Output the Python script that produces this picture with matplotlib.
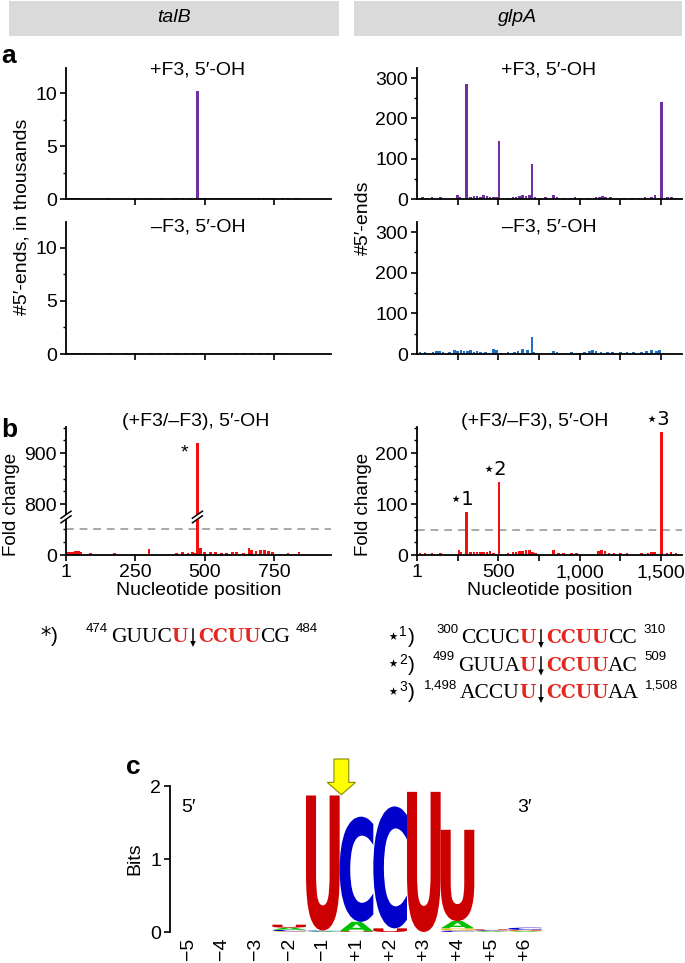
import matplotlib
matplotlib.use("Agg")
import matplotlib.pyplot as plt
from matplotlib.patches import Rectangle, PathPatch, Polygon
from matplotlib.textpath import TextPath
from matplotlib.font_manager import FontProperties
from matplotlib.lines import Line2D
import matplotlib.transforms as mtrans
from matplotlib.ticker import MultipleLocator

# ---------------- data ----------------
genes = ['talB', 'glpA']

# talB, +F3, 5'-OH (thousands of 5'-ends)
talb_plus_pos = [5, 15, 25, 35, 45, 80, 150, 200, 255, 300, 345, 395, 420, 450, 474, 486, 500, 515, 530,
                 545, 560, 575, 590, 605, 620, 635, 650, 665, 680, 695, 710, 725, 740, 760, 780, 800, 830, 860]
talb_plus_val = [0.10, 0.10, 0.09, 0.08, 0.06, 0.04, 0.05, 0.04, 0.04, 0.06, 0.05, 0.05, 0.06, 0.05, 10.2,
                 0.12, 0.10, 0.09, 0.10, 0.09, 0.10, 0.10, 0.09, 0.10, 0.10, 0.09, 0.10, 0.08, 0.09, 0.10,
                 0.09, 0.08, 0.07, 0.06, 0.06, 0.05, 0.05, 0.04]
# talB, -F3
talb_minus_pos = [5, 20, 35, 50, 70, 100, 130, 160, 190, 220, 250, 280, 310, 340, 370, 400, 430, 460, 490,
                  520, 550, 580, 610, 640, 670, 700, 730, 760, 790, 820]
talb_minus_val = [0.08, 0.08, 0.07, 0.06, 0.05, 0.06, 0.04, 0.05, 0.04, 0.06, 0.05, 0.04, 0.05, 0.06, 0.07,
                  0.06, 0.07, 0.06, 0.08, 0.07, 0.06, 0.05, 0.06, 0.05, 0.07, 0.06, 0.08, 0.06, 0.05, 0.04]
# glpA, +F3
glpa_plus_pos = [20, 35, 60, 93, 145, 250, 265, 305, 330, 350, 370, 390, 410, 430, 450, 470, 490, 505, 560,
                 590, 610, 630, 650, 670, 690, 707, 725, 760, 790, 840, 860, 900, 940, 970, 1000, 1050, 1100,
                 1120, 1140, 1160, 1190, 1230, 1270, 1320, 1360, 1400, 1440, 1462, 1503, 1540, 1565, 1590]
glpa_plus_val = [3, 4, 3, 5, 4, 9, 6, 285, 5, 7, 8, 6, 9, 7, 6, 5, 4, 143, 3, 5, 6, 8, 10, 7, 9, 88, 4, 3, 4,
                 10, 5, 3, 3, 4, 2, 3, 4, 6, 8, 6, 4, 3, 3, 2, 3, 4, 5, 9, 240, 5, 5, 3]
# glpA, -F3
glpa_minus_pos = [20, 50, 100, 120, 140, 160, 200, 230, 250, 270, 290, 310, 330, 350, 370, 390, 420, 470,
                  490, 520, 560, 600, 620, 650, 680, 707, 720, 840, 860, 880, 950, 1000, 1030, 1060, 1080,
                  1100, 1130, 1170, 1200, 1250, 1290, 1330, 1380, 1410, 1440, 1470, 1490]
glpa_minus_val = [5, 4, 4, 7, 8, 6, 5, 10, 8, 9, 7, 8, 9, 6, 7, 5, 4, 12, 10, 3, 4, 6, 8, 12, 10, 42, 5, 8,
                  4, 3, 6, 3, 6, 8, 9, 7, 6, 5, 5, 4, 4, 5, 6, 8, 9, 7, 10]
# fold change (+F3/-F3)
talb_fold_pos = [5, 15, 25, 35, 45, 55, 90, 175, 300, 400, 420, 440, 455, 465, 474, 485, 500, 520, 540, 560,
                 580, 600, 615, 640, 660, 670, 685, 700, 715, 730, 745, 800, 840]
talb_fold_val = [6, 6, 6, 7, 7, 6, 3, 4, 12, 4, 5, 4, 5, 4, 920, 14, 6, 6, 5, 4, 4, 5, 5, 3, 14, 10, 8, 10,
                 9, 8, 5, 4, 6]
glpa_fold_pos = [20, 50, 93, 145, 258, 270, 305, 330, 350, 370, 390, 410, 430, 450, 470, 505, 560, 590, 610,
                 630, 650, 670, 690, 710, 730, 840, 870, 900, 950, 980, 1115, 1135, 1155, 1180, 1210, 1250,
                 1290, 1380, 1420, 1440, 1460, 1503, 1535, 1560, 1590]
glpa_fold_val = [3, 3, 3, 3, 10, 5, 84, 5, 6, 5, 6, 5, 6, 7, 4, 143, 3, 5, 6, 7, 8, 10, 9, 6, 4, 10, 4, 3, 3,
                 3, 8, 10, 7, 3, 3, 3, 3, 3, 4, 6, 5, 241, 4, 5, 3]
threshold = 50
talb_site = 474
glpa_sites = [305, 505, 1503]
glpa_site_labels = ['\u22c61', '\u22c62', '\u22c63']

# cleavage-site sequences
talb_seq = ['474', 'GUUC', 'U', 'CCUU', 'CG', '484']
glpa_seq_sup = ['1', '2', '3']
glpa_seqs = [['300', 'CCUC', 'U', 'CCUU', 'CC', '310'],
             ['499', 'GUUA', 'U', 'CCUU', 'AC', '509'],
             ['1,498', 'ACCU', 'U', 'CCUU', 'AA', '1,508']]

# sequence logo (bits)
logo_positions = ['\u22125', '\u22124', '\u22123', '\u22122', '\u22121', '+1', '+2', '+3', '+4', '+5', '+6']
logo_A = [0, 0, 0, 0.03, 0.01, 0.13, 0.0, 0, 0.10, 0.01, 0.01]
logo_C = [0, 0, 0, 0.02, 0.01, 1.44, 1.67, 0, 0.02, 0.01, 0.03]
logo_G = [0, 0, 0, 0.01, 0.0, 0.0, 0.0, 0, 0.03, 0.005, 0.01]
logo_U = [0, 0, 0, 0.04, 1.85, 0.01, 0.05, 1.92, 1.25, 0.01, 0.01]

# ---------------- style ----------------
PURPLE = '#7030A0'
BLUE = '#1F6FC4'
RED = '#F01010'
SEQRED = '#E3261E'
GRAY = '#A8A8A8'
FS = 14
SANS = ['Liberation Sans', 'DejaVu Sans']
plt.rcParams['font.family'] = SANS

W, H = 685, 963
fig = plt.figure(figsize=(W / 100, H / 100), dpi=100)


def box(x0, y0, x1, y1):
    return fig.add_axes([x0 / W, 1 - y1 / H, (x1 - x0) / W, (y1 - y0) / H])


def ftext(x, y, s, **kw):
    return fig.text(x / W, 1 - y / H, s, **kw)


def style(ax):
    ax.spines['top'].set_visible(False)
    ax.spines['right'].set_visible(False)
    for s in ('left', 'bottom'):
        ax.spines[s].set_linewidth(1.3)
    ax.tick_params(which='major', direction='out', length=4.5, width=1.2, labelsize=FS, pad=2)
    ax.tick_params(which='minor', direction='out', length=2.5, width=1.0)
    ax.patch.set_alpha(0)


# headers
for (x0, x1), g in zip([(9, 339), (354, 682)], genes):
    fig.add_artist(Rectangle((x0 / W, 1 - 36 / H), (x1 - x0) / W, 35 / H, transform=fig.transFigure,
                             fc='#DADADA', ec='none'))
    ftext((x0 + x1) / 2, 18, g, ha='center', va='center', style='italic', size=FS)

# panel letters
ftext(1, 56, 'a', ha='left', va='center', weight='bold', size=19)
ftext(1, 430, 'b', ha='left', va='center', weight='bold', size=19)
ftext(126, 767, 'c', ha='left', va='center', weight='bold', size=19)

LX0, LX1, RX0, RX1 = 66, 331, 417, 682
LXLIM, RXLIM = (1, 955), (1, 1628)

# ---------------- panel a ----------------
panels_a = [
    (LX0, LX1, 68, 199, talb_plus_pos, talb_plus_val, PURPLE, LXLIM, 12.4, 5, 2.5, [250, 500, 750], 10),
    (LX0, LX1, 222, 354, talb_minus_pos, talb_minus_val, BLUE, LXLIM, 12.4, 5, 2.5, [250, 500, 750], 10),
    (RX0, RX1, 68, 199, glpa_plus_pos, glpa_plus_val, PURPLE, RXLIM, 325, 100, 50,
     [250, 500, 750, 1000, 1250, 1500], 16),
    (RX0, RX1, 222, 354, glpa_minus_pos, glpa_minus_val, BLUE, RXLIM, 325, 100, 50,
     [250, 500, 750, 1000, 1250, 1500], 16),
]
for x0, x1, y0, y1, pos, val, col, xl, ytop, maj, mnr, xt, bw in panels_a:
    ax = box(x0, y0, x1, y1)
    style(ax)
    ax.bar(pos, val, width=bw, color=col, linewidth=0)
    ax.set_xlim(*xl)
    ax.set_ylim(0, ytop)
    ax.yaxis.set_major_locator(MultipleLocator(maj))
    ax.yaxis.set_minor_locator(MultipleLocator(mnr))
    ax.set_xticks(xt)
    ax.set_xticklabels([])

ftext(198, 70, '+F3, 5\u2032-OH', ha='center', va='center', size=FS)
ftext(198, 227, '\u2013F3, 5\u2032-OH', ha='center', va='center', size=FS)
ftext(549, 70, '+F3, 5\u2032-OH', ha='center', va='center', size=FS)
ftext(549, 227, '\u2013F3, 5\u2032-OH', ha='center', va='center', size=FS)
ftext(22, 217, '#5\u2032-ends, in thousands', rotation=90, ha='center', va='center', size=FS)
ftext(363, 218, '#5\u2032-ends', rotation=90, ha='center', va='center', size=FS)

# ---------------- panel b (talB, broken axis) ----------------
axU = box(LX0, 427, LX1, 517)
axL = box(LX0, 517, LX1, 555)
for ax in (axU, axL):
    style(ax)
    ax.bar(talb_fold_pos, talb_fold_val, width=10, color=RED, linewidth=0)
    ax.set_xlim(*LXLIM)
axU.spines['bottom'].set_visible(False)
axU.tick_params(axis='x', which='both', bottom=False, labelbottom=False)
axU.set_ylim(775, 951)
axU.set_yticks([800, 900])
axU.yaxis.set_minor_locator(MultipleLocator(25))
axL.set_ylim(0, 73)
axL.set_yticks([0])
axL.yaxis.set_minor_locator(MultipleLocator(25))
axL.axhline(threshold, color=GRAY, ls=(0, (4, 3)), lw=1.4, zorder=0)
axL.set_xticks([1, 250, 500, 750])
axL.set_xlabel('Nucleotide position', size=FS, labelpad=1)
axU.annotate('*', xy=(talb_site, talb_fold_val[talb_fold_pos.index(talb_site)]), xytext=(-9, -7),
             textcoords='offset points', ha='center', va='center', size=FS)
ftext(196, 421, '(+F3/\u2013F3), 5\u2032-OH', ha='center', va='center', size=FS)
ftext(12, 504, 'Fold change', rotation=90, ha='center', va='center', size=13.5)


def brk(xf, yf):
    # break mark "//" at figure-fraction point
    dx, dy, g = 5 / W, 3.5 / H, 2.3 / H
    fig.add_artist(Polygon([(xf - dx, yf - dy - g), (xf + dx, yf + dy - g), (xf + dx, yf + dy + g),
                            (xf - dx, yf - dy + g)], closed=True, transform=fig.transFigure,
                           fc='white', ec='none', zorder=20))
    for s in (-g, g):
        fig.add_artist(Line2D([xf - dx, xf + dx], [yf - dy + s, yf + dy + s], transform=fig.transFigure,
                              color='black', lw=1.1, zorder=21))


posL = axL.get_position()
brk(posL.x0, posL.y1)
sx = axL.transData.transform((talb_site, 0))[0] / W
brk(sx, posL.y1)

# ---------------- panel b (glpA) ----------------
axB = box(RX0, 427, RX1, 555)
style(axB)
axB.bar(glpa_fold_pos, glpa_fold_val, width=16, color=RED, linewidth=0)
axB.set_xlim(*RXLIM)
axB.set_ylim(0, 251)
axB.set_yticks([0, 100, 200])
axB.yaxis.set_minor_locator(MultipleLocator(25))
axB.axhline(threshold, color=GRAY, ls=(0, (4, 3)), lw=1.4, zorder=0)
axB.set_xticks([1, 500, 1000, 1500])
axB.set_xticklabels(['1', '500', '1,000', '1,500'])
axB.set_xticks([250, 750, 1250], minor=True)
axB.tick_params(axis='x', which='minor', length=4.5, width=1.2)
axB.set_xlabel('Nucleotide position', size=FS, labelpad=1)
for p, lab in zip(glpa_sites, glpa_site_labels):
    axB.annotate(lab, xy=(p, glpa_fold_val[glpa_fold_pos.index(p)]), xytext=(-3, 2),
                 textcoords='offset points', ha='center', va='bottom', size=FS,
                 family=['DejaVu Sans', 'Liberation Sans'])
ftext(535, 421, '(+F3/\u2013F3), 5\u2032-OH', ha='center', va='center', size=FS)
ftext(364, 504, 'Fold change', rotation=90, ha='center', va='center', size=13.5)

# ---------------- sequences ----------------
SERIF = ['Liberation Serif', 'DejaVu Serif']
renderer = fig.canvas.get_renderer()


def seq_line(y, arrow_x, star_x, star_sup, parts, star_char):
    start, left, cut, rbold, rtail, end = parts

    def put(x, s, ha, dy=0, **kw):
        t = fig.text(x / W, 1 - (y + dy) / H, s, ha=ha, va='baseline', **kw)
        bb = t.get_window_extent(renderer)
        return bb.x0, bb.x1

    # thin cleavage arrow: shaft + small filled head
    xf = arrow_x / W
    fig.add_artist(Line2D([xf, xf], [1 - (y - 13) / H, 1 - (y + 1) / H], transform=fig.transFigure,
                          color='black', lw=1.1))
    fig.add_artist(Polygon([((arrow_x - 2.8) / W, 1 - (y - 1) / H), ((arrow_x + 2.8) / W, 1 - (y - 1) / H),
                            (xf, 1 - (y + 5) / H)], closed=True, transform=fig.transFigure,
                           fc='black', ec='none'))
    b0, _ = put(arrow_x - 5, cut, 'right', family=['DejaVu Serif'], weight='bold', color=SEQRED, size=13.5)
    c0, _ = put(b0, left, 'right', family=SERIF, size=15.5)
    put(c0 - 3, start, 'right', dy=-10, size=9.5)
    _, d1 = put(arrow_x + 5, rbold, 'left', family=['DejaVu Serif'], weight='bold', color=SEQRED, size=13.5)
    _, e1 = put(d1, rtail, 'left', family=SERIF, size=15.5)
    put(e1 + 6, end, 'left', dy=-10, size=9.5)
    _, s1 = put(star_x, star_char, 'left', size=15, family=['DejaVu Sans', 'Liberation Sans'])
    if star_sup:
        _, s1 = put(s1, star_sup, 'left', dy=-7, size=10)
    put(s1 + 1, ')', 'left', size=15)


seq_line(642, 193, 40, '', talb_seq, '*')
for i, (sup, parts) in enumerate(zip(glpa_seq_sup, glpa_seqs)):
    seq_line(643 + 27.5 * i, 541, 386, sup, parts, '\u22c6')

# ---------------- panel c: sequence logo ----------------
axc = box(170, 759, 545, 932)
axc.set_xlim(-0.54, 10.6)
axc.set_ylim(0, 2.37)
for s in ('top', 'right', 'bottom'):
    axc.spines[s].set_visible(False)
axc.spines['left'].set_linewidth(1.3)
axc.spines['left'].set_bounds(0, 2)
axc.set_yticks([0, 1, 2])
axc.tick_params(axis='y', direction='out', length=4.5, width=1.2, labelsize=FS, pad=2)
axc.set_xticks(range(len(logo_positions)))
axc.set_xticklabels(logo_positions, rotation=90, size=FS)
axc.tick_params(axis='x', length=0, pad=4)
axc.patch.set_alpha(0)

fp = FontProperties(family='DejaVu Sans', weight='bold')
lcol = {'A': '#00C000', 'C': '#0000CC', 'G': '#FFB300', 'U': '#CC0000'}
for i in range(len(logo_positions)):
    stack = sorted([(logo_A[i], 'A'), (logo_C[i], 'C'), (logo_G[i], 'G'), (logo_U[i], 'U')])
    y = 0.0
    for h, L in stack:
        if h <= 0:
            continue
        tp = TextPath((0, 0), L, size=1, prop=fp)
        bb = tp.get_extents()
        tr = (mtrans.Affine2D().translate(-bb.x0, -bb.y0)
              .scale(1.0 / bb.width, h / bb.height).translate(i - 0.5, y))
        axc.add_patch(PathPatch(tr.transform_path(tp), fc=lcol[L], ec='none', lw=0))
        y += h

# cleavage arrow between -1 and +1
ax_x, tip, top, hb = 4.55, 1.88, 2.37, 2.05
sw, hw = 0.22, 0.42
axc.add_patch(Polygon([(ax_x - sw, top), (ax_x + sw, top), (ax_x + sw, hb), (ax_x + hw, hb), (ax_x, tip),
                       (ax_x - hw, hb), (ax_x - sw, hb)], closed=True, fc='#FFFF00', ec='#8A8A00',
                      lw=0.8, clip_on=False, zorder=5))
axc.text(0, 1.71, '5\u2032', ha='center', va='center', size=FS)
axc.text(10, 1.71, '3\u2032', ha='center', va='center', size=FS)
ftext(135, 859, 'Bits', rotation=90, ha='center', va='center', size=FS)

fig.savefig('out.png', dpi=100)
